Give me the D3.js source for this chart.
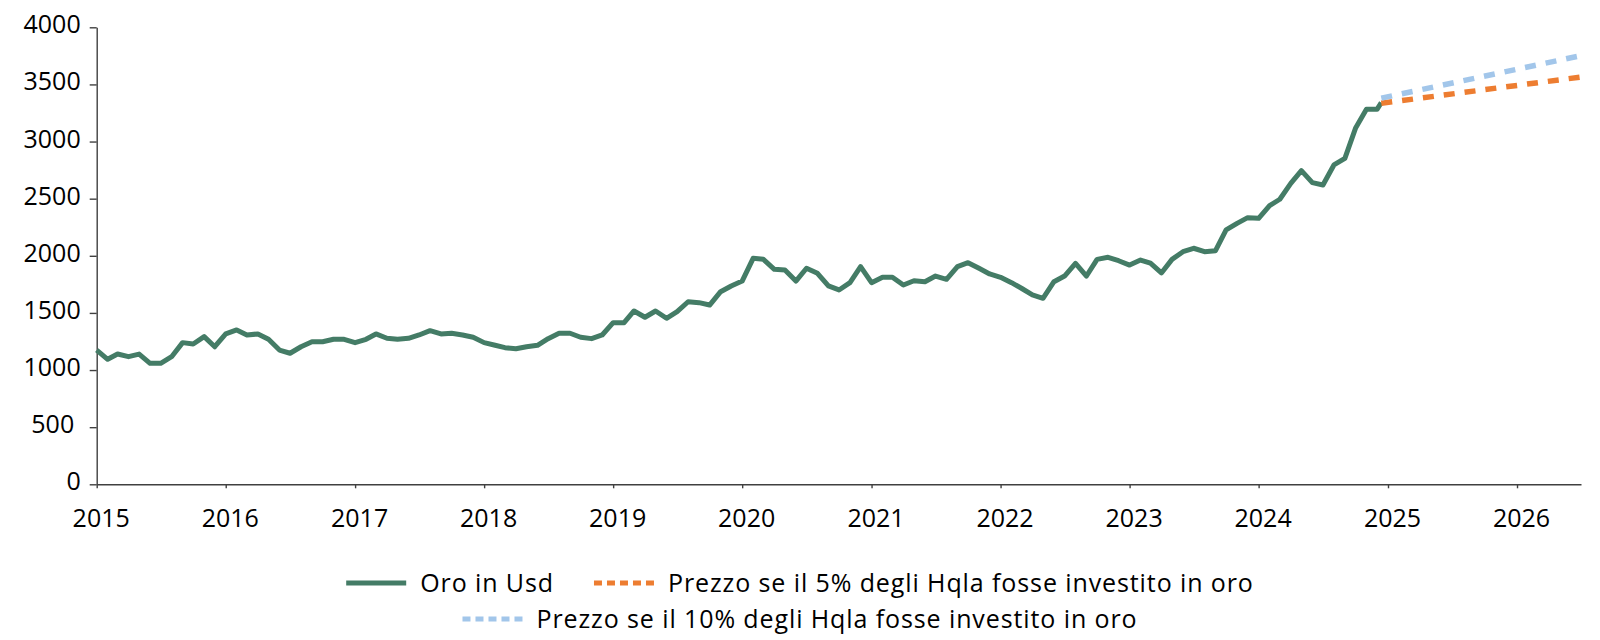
<!DOCTYPE html>
<html>
<head>
<meta charset="utf-8">
<script src="https://cdn.jsdelivr.net/npm/d3@7"></script>
<style>
  body { margin: 0; background: #fff; }
  svg { display: block; font-family: "Open Sans", sans-serif; }
  .axis path, .axis line { stroke: #404040; stroke-width: 1.4; }
  .axis text { fill: #000; font-size: 25px; font-family: "Open Sans", sans-serif; }
  .legend text { font-size: 25px; fill: #000; letter-spacing: 0.9px; }
</style>
</head>
<body>
<svg id="chart"></svg>
<script>
// oro in usd, valori mensili da gennaio 2015
var oroInizio = "2015-01-01"
var oroUsd = [
  1175, 1094, 1140, 1117, 1140, 1059, 1059, 1117, 1240, 1228, 1292, 1204,
  1316, 1351, 1307, 1316, 1269, 1175, 1147, 1204, 1248, 1248, 1269, 1269,
  1240, 1269, 1316, 1278, 1269, 1278, 1307, 1345, 1316, 1322, 1307, 1287,
  1240, 1217, 1196, 1187, 1204, 1217, 1275, 1322, 1322, 1287, 1275, 1307,
  1415, 1415, 1517, 1462, 1517, 1453, 1511, 1598, 1590, 1569, 1686, 1736,
  1779, 1978, 1969, 1882, 1876, 1779, 1891, 1847, 1736, 1701, 1765, 1905,
  1765, 1812, 1812, 1744, 1782, 1773, 1823, 1794, 1905, 1940, 1891, 1841,
  1812, 1765, 1716, 1657, 1628, 1773, 1823, 1934, 1823, 1969, 1987, 1957,
  1919, 1963, 1935, 1850, 1969, 2036, 2066, 2036, 2045, 2226, 2284, 2334,
  2328, 2439, 2495, 2634, 2745, 2640, 2620, 2795, 2853, 3116, 3282, 3282
]
// ultimo dato (a metà mese)
var oroUltimaData = "2024-12-13"
var oroUltimo = 3340

// proiezioni
var prevDate = ["2024-12-13", "2026-07-01"]
var prezzo5 = [3335, 3565]
var prezzo10 = [3380, 3752]

var yTicks = [0, 500, 1000, 1500, 2000, 2500, 3000, 3500, 4000]
var xTicks = ["2015", "2016", "2017", "2018", "2019", "2020", "2021", "2022", "2023", "2024", "2025", "2026"]
var xDomain = ["2015-01-01", "2026-07-01"]

var legendItems = [
  {row: 0, label: "Oro in Usd", color: "#447c66", dash: null},
  {row: 0, label: "Prezzo se il 5% degli Hqla fosse investito in oro", color: "#ed7d31", dash: "8,5"},
  {row: 1, label: "Prezzo se il 10% degli Hqla fosse investito in oro", color: "#a2c6ea", dash: "8,5"}
]


var width = 1600,
    height = 640,
    margin = {left: 96.7, right: 20, top: 27.3, bottom: 155.7},
    parse = d3.utcParse("%Y-%m-%d"),
    svg = d3.select("#chart").attr("width", width).attr("height", height)

var oro = oroUsd.map((v, i) => ({date: d3.utcMonth.offset(parse(oroInizio), i), value: v}))
oro.push({date: parse(oroUltimaData), value: oroUltimo})

var prev5 = prevDate.map((d, i) => ({date: parse(d), value: prezzo5[i]})),
    prev10 = prevDate.map((d, i) => ({date: parse(d), value: prezzo10[i]}))

var x = d3.scaleUtc()
  .domain(xDomain.map(parse))
  .range([margin.left, 1581])

var y = d3.scaleLinear()
  .domain([0, 4000])
  .range([height - margin.bottom, margin.top])

svg.append("g")
  .attr("class", "axis")
  .attr("transform", `translate(0,${y(0)})`)
  .call(d3.axisBottom(x)
          .tickValues(xTicks.map((t) => d3.utcParse("%Y")(t)))
          .tickFormat(d3.utcFormat("%Y"))
          .tickSize(4)
          .tickSizeOuter(0)
          .tickPadding(21))
  .call((g) => g.selectAll("text").attr("dx", 4))

svg.append("g")
  .attr("class", "axis")
  .attr("transform", `translate(${margin.left},0)`)
  .call(d3.axisLeft(y)
          .tickValues(yTicks)
          .tickFormat((d) => d === 500 ? "500\u00a0" : d)
          .tickSize(7)
          .tickSizeOuter(0)
          .tickPadding(9))
  .call((g) => g.selectAll("text").attr("dy", "0.22em"))

var line = d3.line()
  .x((d) => x(d.date))
  .y((d) => y(d.value))

svg.append("path")
  .datum(oro)
  .attr("fill", "none")
  .attr("stroke", "#447c66")
  .attr("stroke-width", 5)
  .attr("stroke-linejoin", "round")
  .attr("d", line)

svg.append("path")
  .datum(prev5)
  .attr("fill", "none")
  .attr("stroke", "#ed7d31")
  .attr("stroke-width", 5.5)
  .attr("stroke-dasharray", "11,10")
  .attr("d", line)

svg.append("path")
  .datum(prev10)
  .attr("fill", "none")
  .attr("stroke", "#a2c6ea")
  .attr("stroke-width", 5.5)
  .attr("stroke-dasharray", "11,10")
  .attr("d", line)


// legenda centrata, due righe
var rowY = [583, 619],
    swatch = 60,
    gapText = 14,
    gapItem = 40

var legend = svg.append("g").attr("class", "legend")

var items = legend.selectAll("g")
  .data(legendItems)
  .enter().append("g")

items.append("line")
  .attr("x1", 0).attr("x2", swatch)
  .attr("stroke", (d) => d.color)
  .attr("stroke-width", 5)
  .attr("stroke-dasharray", (d) => d.dash)

items.append("text")
  .attr("x", swatch + gapText)
  .attr("dy", "0.35em")
  .text((d) => d.label)

rowY.forEach((ry, r) => {
  var row = items.filter((d) => d.row === r),
      widths = row.nodes().map((n) => swatch + gapText + n.querySelector("text").getComputedTextLength()),
      total = d3.sum(widths) + gapItem * (widths.length - 1),
      pos = 800 - total / 2
  row.each(function(d, i) {
    d3.select(this).attr("transform", `translate(${pos},${ry})`)
    pos += widths[i] + gapItem
  })
})
</script>
</body>
</html>
